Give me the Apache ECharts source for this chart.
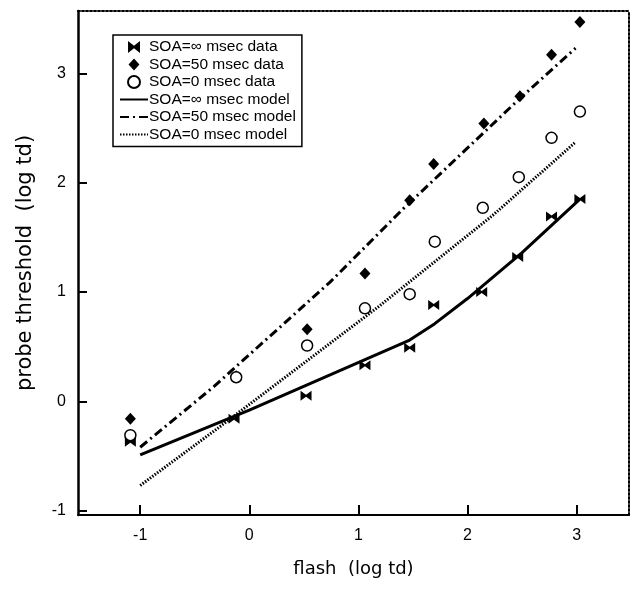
<!doctype html>
<html>
<head>
<meta charset="utf-8"/>
<title>probe threshold vs flash</title>
<script src="https://cdn.jsdelivr.net/npm/echarts@6/dist/echarts.min.js"></script>
<style>
* { margin: 0; padding: 0; }
body { background: #fff; }
#main { width: 636px; height: 590px; }
</style>
</head>
<body>
<div id="main"></div>
<script type="text/javascript">
// data (log td)
var xInfData = [-1.09, -0.14, 0.52, 1.06, 1.47, 1.69, 2.13, 2.46, 2.77, 3.03];
var yInfData = [-0.37, -0.16, 0.05, 0.33, 0.49, 0.88, 1.00, 1.32, 1.69, 1.85];
var x50Data = [-1.09, -0.12, 0.53, 1.06, 1.47, 1.69, 2.15, 2.48, 2.77, 3.03];
var y50Data = [-0.16, 0.23, 0.66, 1.17, 1.84, 2.17, 2.54, 2.79, 3.17, 3.47];
var x0Data = [-1.09, -0.12, 0.53, 1.06, 1.47, 1.70, 2.14, 2.47, 2.77, 3.03];
var y0Data = [-0.31, 0.22, 0.51, 0.85, 0.98, 1.46, 1.77, 2.05, 2.41, 2.65];

// model curves
var xInfModel = [-1, 0, 1.47, 1.70, 2.0, 2.5, 3.03];
var yInfModel = [-0.49, -0.08, 0.56, 0.71, 0.94, 1.36, 1.85];
var x50Model = [-1, -0.33, 0.74, 1.41, 2.48, 2.99];
var y50Model = [-0.42, 0.13, 1.09, 1.76, 2.77, 3.23];
var x0Model = [-1, -0.28, 1.19, 2.23, 2.99];
var y0Model = [-0.77, -0.24, 0.87, 1.70, 2.37];

var tickValues = [-1, 0, 1, 2, 3];

function pairs(xs, ys) {
    return xs.map(function (x, i) { return [x, ys[i]]; });
}

var FONT = 'Liberation Sans';
var WIDE = 'DejaVu Sans';
var bowtie = 'path://M0,0 L5,4 L10,0 L10,10 L5,6 L0,10 Z';
var diamond = 'path://M5,0 L10,5.5 L5,11 L0,5.5 Z';
var hidden = { opacity: 0 };

var chart = echarts.init(document.getElementById('main'));

var option = {
    animation: false,
    textStyle: { fontFamily: FONT, color: '#000' },
    grid: { left: 78, right: 7, top: 11, bottom: 75 },
    legend: {
        orient: 'vertical',
        left: 113,
        top: 35,
        padding: [4, 6, 4, 6],
        itemGap: 1.5,
        itemWidth: 28,
        itemHeight: 12,
        borderColor: '#000',
        borderWidth: 1.5,
        textStyle: { fontFamily: FONT, fontSize: 15.5, color: '#000', lineHeight: 16, padding: [0, 0, 0, -4] },
        data: [
            { name: 'SOA=∞ msec data' },
            { name: 'SOA=50 msec data' },
            { name: 'SOA=0 msec data' },
            { name: 'SOA=∞ msec model', itemStyle: hidden },
            { name: 'SOA=50 msec model', itemStyle: hidden },
            { name: 'SOA=0 msec model', itemStyle: hidden }
        ]
    },
    xAxis: [{
        type: 'value',
        min: -1.57,
        max: 3.48,
        name: 'flash  (log td)',
        nameLocation: 'middle',
        nameGap: 45,
        nameTextStyle: { fontFamily: WIDE, fontSize: 18, color: '#000' },
        axisLine: { onZero: false, lineStyle: { color: '#000', width: 2 } },
        axisTick: { inside: true, length: 10, lineStyle: { width: 2, color: '#000' }, customValues: tickValues },
        axisLabel: { fontSize: 16, color: '#000', margin: 13, customValues: tickValues },
        splitLine: { show: false }
    }, {
        type: 'value',
        position: 'top',
        min: -1.57,
        max: 3.48,
        axisLine: { show: true, onZero: false, lineStyle: { color: '#000', width: 2, type: [2, 2] } },
        axisTick: { show: false },
        axisLabel: { show: false },
        splitLine: { show: false }
    }],
    yAxis: [{
        type: 'value',
        min: -1.04,
        max: 3.57,
        name: 'probe threshold  (log td)',
        nameLocation: 'middle',
        nameGap: 42,
        nameTextStyle: { fontFamily: WIDE, fontSize: 21, color: '#000' },
        axisLine: { show: true, onZero: false, lineStyle: { color: '#000', width: 2.5 } },
        axisTick: { show: true, inside: true, length: 9, lineStyle: { width: 2, color: '#000' }, customValues: tickValues },
        axisLabel: { fontSize: 16, color: '#000', margin: 12, customValues: tickValues },
        splitLine: { show: false }
    }, {
        type: 'value',
        position: 'right',
        min: -1.04,
        max: 3.57,
        axisLine: { show: true, onZero: false, lineStyle: { color: '#000', width: 2, type: [2, 2] } },
        axisTick: { show: false },
        axisLabel: { show: false },
        splitLine: { show: false }
    }],
    series: [
        {
            name: 'SOA=∞ msec model',
            type: 'line',
            data: pairs(xInfModel, yInfModel),
            symbol: 'none',
            itemStyle: { color: '#000' },
            lineStyle: { color: '#000', width: 3 },
            z: 2
        },
        {
            name: 'SOA=50 msec model',
            type: 'line',
            data: pairs(x50Model, y50Model),
            symbol: 'none',
            itemStyle: { color: '#000' },
            lineStyle: { color: '#000', width: 3, type: [9, 4, 2, 4] },
            z: 2
        },
        {
            name: 'SOA=0 msec model',
            type: 'line',
            data: pairs(x0Model, y0Model),
            symbol: 'none',
            itemStyle: { color: '#000' },
            lineStyle: { color: '#000', width: 3, type: [1.5, 1.5] },
            z: 2
        },
        {
            name: 'SOA=∞ msec data',
            type: 'scatter',
            data: pairs(xInfData, yInfData),
            symbol: bowtie,
            symbolSize: [11, 10],
            itemStyle: { color: '#000', opacity: 1 },
            z: 3
        },
        {
            name: 'SOA=50 msec data',
            type: 'scatter',
            data: pairs(x50Data, y50Data),
            symbol: diamond,
            symbolSize: [11, 12],
            itemStyle: { color: '#000', opacity: 1 },
            z: 3
        },
        {
            name: 'SOA=0 msec data',
            type: 'scatter',
            data: pairs(x0Data, y0Data),
            symbol: 'circle',
            symbolSize: 11,
            itemStyle: { color: '#fff', borderColor: '#000', borderWidth: 1.5, opacity: 1 },
            z: 3
        }
    ]
};

chart.setOption(option);
</script>
</body>
</html>
